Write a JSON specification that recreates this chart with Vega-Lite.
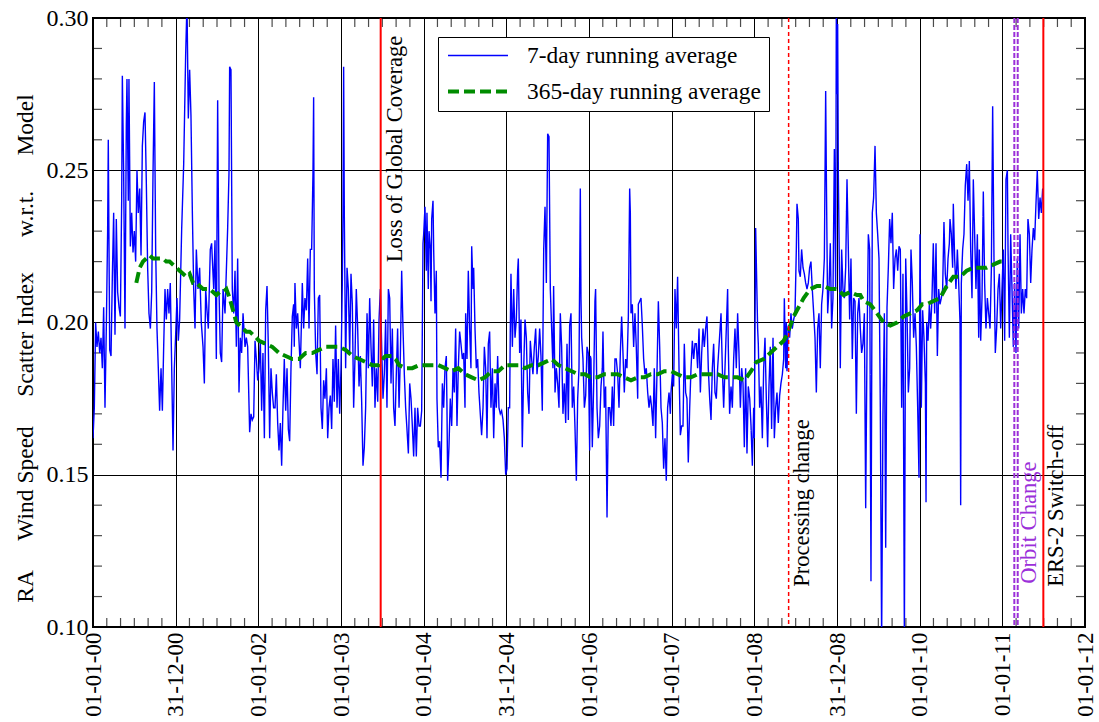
{
  "$schema": "https://vega.github.io/schema/vega-lite/v6.json",
  "width": 992,
  "height": 609,
  "autosize": {"type": "none"},
  "padding": {"left": 93, "top": 18, "right": 14, "bottom": 95},
  "background": "#ffffff",
  "config": {
    "font": "Liberation Serif",
    "view": {"stroke": "#000000", "strokeWidth": 2},
    "axis": {
      "domain": false,
      "gridColor": "#000000",
      "gridWidth": 1,
      "gridOpacity": 1,
      "labelColor": "#000000",
      "titleColor": "#000000",
      "labelFont": "Liberation Serif",
      "titleFont": "Liberation Serif",
      "titleFontWeight": "normal"
    }
  },
  "datasets": {
    "weekly": [
      {"t":2000.000,"v":0.162},{"t":2000.016,"v":0.172},{"t":2000.032,"v":0.200},{"t":2000.048,"v":0.192},{"t":2000.065,"v":0.197},{"t":2000.081,"v":0.190},{"t":2000.097,"v":0.195},{"t":2000.113,"v":0.185},{"t":2000.129,"v":0.205},{"t":2000.145,"v":0.172},{"t":2000.161,"v":0.198},{"t":2000.177,"v":0.230},{"t":2000.185,"v":0.260},{"t":2000.202,"v":0.191},{"t":2000.218,"v":0.189},{"t":2000.234,"v":0.215},{"t":2000.250,"v":0.236},{"t":2000.266,"v":0.196},{"t":2000.282,"v":0.234},{"t":2000.298,"v":0.210},{"t":2000.315,"v":0.205},{"t":2000.331,"v":0.202},{"t":2000.347,"v":0.240},{"t":2000.355,"v":0.281},{"t":2000.371,"v":0.249},{"t":2000.387,"v":0.198},{"t":2000.403,"v":0.265},{"t":2000.411,"v":0.280},{"t":2000.427,"v":0.240},{"t":2000.435,"v":0.280},{"t":2000.452,"v":0.225},{"t":2000.468,"v":0.236},{"t":2000.484,"v":0.223},{"t":2000.500,"v":0.230},{"t":2000.516,"v":0.220},{"t":2000.532,"v":0.250},{"t":2000.548,"v":0.236},{"t":2000.565,"v":0.244},{"t":2000.581,"v":0.222},{"t":2000.597,"v":0.258},{"t":2000.613,"v":0.266},{"t":2000.629,"v":0.269},{"t":2000.645,"v":0.246},{"t":2000.661,"v":0.218},{"t":2000.677,"v":0.203},{"t":2000.694,"v":0.198},{"t":2000.710,"v":0.210},{"t":2000.726,"v":0.249},{"t":2000.742,"v":0.279},{"t":2000.758,"v":0.224},{"t":2000.774,"v":0.198},{"t":2000.790,"v":0.185},{"t":2000.806,"v":0.171},{"t":2000.823,"v":0.185},{"t":2000.839,"v":0.171},{"t":2000.855,"v":0.192},{"t":2000.871,"v":0.211},{"t":2000.887,"v":0.201},{"t":2000.903,"v":0.211},{"t":2000.919,"v":0.203},{"t":2000.935,"v":0.213},{"t":2000.952,"v":0.185},{"t":2000.968,"v":0.158},{"t":2000.984,"v":0.185},
      {"t":2001.000,"v":0.196},{"t":2001.016,"v":0.208},{"t":2001.032,"v":0.194},{"t":2001.048,"v":0.201},{"t":2001.073,"v":0.231},{"t":2001.097,"v":0.252},{"t":2001.121,"v":0.288},{"t":2001.137,"v":0.305},{"t":2001.153,"v":0.267},{"t":2001.169,"v":0.283},{"t":2001.185,"v":0.268},{"t":2001.202,"v":0.236},{"t":2001.218,"v":0.211},{"t":2001.234,"v":0.198},{"t":2001.250,"v":0.224},{"t":2001.270,"v":0.211},{"t":2001.290,"v":0.218},{"t":2001.310,"v":0.200},{"t":2001.331,"v":0.192},{"t":2001.347,"v":0.180},{"t":2001.363,"v":0.211},{"t":2001.379,"v":0.204},{"t":2001.395,"v":0.198},{"t":2001.419,"v":0.224},{"t":2001.435,"v":0.226},{"t":2001.460,"v":0.211},{"t":2001.476,"v":0.227},{"t":2001.492,"v":0.188},{"t":2001.508,"v":0.273},{"t":2001.524,"v":0.211},{"t":2001.540,"v":0.190},{"t":2001.556,"v":0.187},{"t":2001.573,"v":0.211},{"t":2001.597,"v":0.203},{"t":2001.613,"v":0.217},{"t":2001.629,"v":0.231},{"t":2001.645,"v":0.249},{"t":2001.653,"v":0.284},{"t":2001.669,"v":0.283},{"t":2001.685,"v":0.211},{"t":2001.702,"v":0.203},{"t":2001.718,"v":0.217},{"t":2001.734,"v":0.192},{"t":2001.750,"v":0.221},{"t":2001.766,"v":0.177},{"t":2001.782,"v":0.195},{"t":2001.798,"v":0.190},{"t":2001.815,"v":0.203},{"t":2001.839,"v":0.192},{"t":2001.855,"v":0.195},{"t":2001.871,"v":0.192},{"t":2001.895,"v":0.164},{"t":2001.911,"v":0.170},{"t":2001.927,"v":0.168},{"t":2001.944,"v":0.169},{"t":2001.960,"v":0.194},{"t":2001.976,"v":0.188},{"t":2001.992,"v":0.181},
      {"t":2002.008,"v":0.185},{"t":2002.024,"v":0.194},{"t":2002.040,"v":0.171},{"t":2002.056,"v":0.190},{"t":2002.073,"v":0.162},{"t":2002.089,"v":0.204},{"t":2002.105,"v":0.212},{"t":2002.121,"v":0.192},{"t":2002.137,"v":0.162},{"t":2002.153,"v":0.185},{"t":2002.169,"v":0.177},{"t":2002.185,"v":0.172},{"t":2002.202,"v":0.172},{"t":2002.218,"v":0.183},{"t":2002.234,"v":0.167},{"t":2002.250,"v":0.158},{"t":2002.266,"v":0.167},{"t":2002.282,"v":0.153},{"t":2002.298,"v":0.172},{"t":2002.314,"v":0.188},{"t":2002.331,"v":0.171},{"t":2002.347,"v":0.185},{"t":2002.363,"v":0.165},{"t":2002.379,"v":0.161},{"t":2002.395,"v":0.185},{"t":2002.411,"v":0.202},{"t":2002.427,"v":0.206},{"t":2002.435,"v":0.192},{"t":2002.443,"v":0.213},{"t":2002.460,"v":0.198},{"t":2002.476,"v":0.203},{"t":2002.492,"v":0.194},{"t":2002.508,"v":0.185},{"t":2002.524,"v":0.203},{"t":2002.532,"v":0.213},{"t":2002.548,"v":0.198},{"t":2002.564,"v":0.208},{"t":2002.581,"v":0.204},{"t":2002.597,"v":0.221},{"t":2002.613,"v":0.198},{"t":2002.629,"v":0.224},{"t":2002.645,"v":0.224},{"t":2002.661,"v":0.249},{"t":2002.669,"v":0.274},{"t":2002.677,"v":0.211},{"t":2002.694,"v":0.190},{"t":2002.710,"v":0.183},{"t":2002.726,"v":0.208},{"t":2002.742,"v":0.209},{"t":2002.758,"v":0.172},{"t":2002.774,"v":0.165},{"t":2002.790,"v":0.181},{"t":2002.806,"v":0.175},{"t":2002.823,"v":0.185},{"t":2002.839,"v":0.162},{"t":2002.855,"v":0.172},{"t":2002.871,"v":0.176},{"t":2002.887,"v":0.165},{"t":2002.903,"v":0.188},{"t":2002.919,"v":0.174},{"t":2002.935,"v":0.199},{"t":2002.952,"v":0.172},{"t":2002.968,"v":0.188},{"t":2002.984,"v":0.170},
      {"t":2003.000,"v":0.185},{"t":2003.016,"v":0.213},{"t":2003.024,"v":0.236},{"t":2003.032,"v":0.284},{"t":2003.040,"v":0.236},{"t":2003.056,"v":0.185},{"t":2003.073,"v":0.218},{"t":2003.089,"v":0.211},{"t":2003.105,"v":0.190},{"t":2003.121,"v":0.216},{"t":2003.137,"v":0.206},{"t":2003.153,"v":0.172},{"t":2003.169,"v":0.188},{"t":2003.185,"v":0.211},{"t":2003.202,"v":0.198},{"t":2003.218,"v":0.179},{"t":2003.234,"v":0.189},{"t":2003.250,"v":0.174},{"t":2003.266,"v":0.153},{"t":2003.282,"v":0.159},{"t":2003.298,"v":0.172},{"t":2003.315,"v":0.203},{"t":2003.331,"v":0.185},{"t":2003.347,"v":0.208},{"t":2003.363,"v":0.192},{"t":2003.379,"v":0.179},{"t":2003.395,"v":0.201},{"t":2003.411,"v":0.172},{"t":2003.427,"v":0.185},{"t":2003.444,"v":0.174},{"t":2003.460,"v":0.201},{"t":2003.476,"v":0.211},{"t":2003.492,"v":0.192},{"t":2003.508,"v":0.175},{"t":2003.524,"v":0.183},{"t":2003.540,"v":0.201},{"t":2003.556,"v":0.172},{"t":2003.573,"v":0.211},{"t":2003.589,"v":0.208},{"t":2003.605,"v":0.180},{"t":2003.621,"v":0.198},{"t":2003.637,"v":0.172},{"t":2003.653,"v":0.166},{"t":2003.669,"v":0.183},{"t":2003.685,"v":0.198},{"t":2003.702,"v":0.172},{"t":2003.718,"v":0.189},{"t":2003.734,"v":0.217},{"t":2003.750,"v":0.198},{"t":2003.766,"v":0.183},{"t":2003.782,"v":0.172},{"t":2003.798,"v":0.165},{"t":2003.815,"v":0.157},{"t":2003.831,"v":0.180},{"t":2003.847,"v":0.175},{"t":2003.863,"v":0.166},{"t":2003.879,"v":0.156},{"t":2003.895,"v":0.172},{"t":2003.911,"v":0.156},{"t":2003.927,"v":0.172},{"t":2003.944,"v":0.166},{"t":2003.960,"v":0.166},{"t":2003.976,"v":0.171},{"t":2003.992,"v":0.226},
      {"t":2004.000,"v":0.229},{"t":2004.016,"v":0.238},{"t":2004.032,"v":0.217},{"t":2004.040,"v":0.236},{"t":2004.056,"v":0.211},{"t":2004.065,"v":0.230},{"t":2004.081,"v":0.224},{"t":2004.089,"v":0.207},{"t":2004.097,"v":0.234},{"t":2004.113,"v":0.240},{"t":2004.121,"v":0.224},{"t":2004.137,"v":0.203},{"t":2004.153,"v":0.217},{"t":2004.161,"v":0.175},{"t":2004.177,"v":0.159},{"t":2004.193,"v":0.161},{"t":2004.210,"v":0.149},{"t":2004.226,"v":0.180},{"t":2004.242,"v":0.172},{"t":2004.258,"v":0.185},{"t":2004.274,"v":0.189},{"t":2004.282,"v":0.172},{"t":2004.290,"v":0.148},{"t":2004.306,"v":0.159},{"t":2004.322,"v":0.175},{"t":2004.339,"v":0.166},{"t":2004.355,"v":0.185},{"t":2004.371,"v":0.177},{"t":2004.387,"v":0.198},{"t":2004.403,"v":0.166},{"t":2004.419,"v":0.185},{"t":2004.435,"v":0.197},{"t":2004.451,"v":0.193},{"t":2004.468,"v":0.188},{"t":2004.484,"v":0.190},{"t":2004.500,"v":0.172},{"t":2004.508,"v":0.203},{"t":2004.524,"v":0.188},{"t":2004.540,"v":0.217},{"t":2004.556,"v":0.198},{"t":2004.572,"v":0.185},{"t":2004.581,"v":0.225},{"t":2004.597,"v":0.211},{"t":2004.605,"v":0.218},{"t":2004.621,"v":0.198},{"t":2004.637,"v":0.185},{"t":2004.653,"v":0.188},{"t":2004.669,"v":0.177},{"t":2004.685,"v":0.170},{"t":2004.701,"v":0.163},{"t":2004.718,"v":0.172},{"t":2004.734,"v":0.192},{"t":2004.750,"v":0.185},{"t":2004.766,"v":0.162},{"t":2004.782,"v":0.193},{"t":2004.798,"v":0.197},{"t":2004.814,"v":0.172},{"t":2004.831,"v":0.185},{"t":2004.847,"v":0.162},{"t":2004.863,"v":0.180},{"t":2004.879,"v":0.172},{"t":2004.895,"v":0.189},{"t":2004.911,"v":0.172},{"t":2004.927,"v":0.170},{"t":2004.943,"v":0.171},{"t":2004.960,"v":0.168},{"t":2004.976,"v":0.162},{"t":2004.992,"v":0.150},
      {"t":2005.008,"v":0.152},{"t":2005.024,"v":0.172},{"t":2005.040,"v":0.172},{"t":2005.048,"v":0.198},{"t":2005.056,"v":0.216},{"t":2005.073,"v":0.192},{"t":2005.089,"v":0.211},{"t":2005.105,"v":0.195},{"t":2005.121,"v":0.201},{"t":2005.137,"v":0.217},{"t":2005.145,"v":0.221},{"t":2005.161,"v":0.190},{"t":2005.177,"v":0.201},{"t":2005.193,"v":0.159},{"t":2005.210,"v":0.185},{"t":2005.226,"v":0.201},{"t":2005.242,"v":0.195},{"t":2005.258,"v":0.177},{"t":2005.274,"v":0.170},{"t":2005.290,"v":0.194},{"t":2005.306,"v":0.188},{"t":2005.322,"v":0.183},{"t":2005.339,"v":0.192},{"t":2005.355,"v":0.198},{"t":2005.371,"v":0.183},{"t":2005.387,"v":0.189},{"t":2005.403,"v":0.198},{"t":2005.419,"v":0.189},{"t":2005.435,"v":0.171},{"t":2005.452,"v":0.224},{"t":2005.468,"v":0.238},{"t":2005.484,"v":0.213},{"t":2005.500,"v":0.262},{"t":2005.516,"v":0.261},{"t":2005.532,"v":0.211},{"t":2005.548,"v":0.198},{"t":2005.564,"v":0.185},{"t":2005.572,"v":0.212},{"t":2005.589,"v":0.177},{"t":2005.605,"v":0.185},{"t":2005.621,"v":0.180},{"t":2005.637,"v":0.172},{"t":2005.653,"v":0.203},{"t":2005.669,"v":0.192},{"t":2005.685,"v":0.170},{"t":2005.702,"v":0.180},{"t":2005.718,"v":0.167},{"t":2005.734,"v":0.193},{"t":2005.750,"v":0.168},{"t":2005.766,"v":0.199},{"t":2005.782,"v":0.203},{"t":2005.798,"v":0.172},{"t":2005.815,"v":0.179},{"t":2005.831,"v":0.165},{"t":2005.847,"v":0.148},{"t":2005.863,"v":0.175},{"t":2005.879,"v":0.185},{"t":2005.895,"v":0.244},{"t":2005.903,"v":0.208},{"t":2005.911,"v":0.195},{"t":2005.927,"v":0.188},{"t":2005.944,"v":0.172},{"t":2005.960,"v":0.176},{"t":2005.976,"v":0.192},{"t":2005.992,"v":0.190},
      {"t":2006.008,"v":0.158},{"t":2006.016,"v":0.189},{"t":2006.024,"v":0.188},{"t":2006.040,"v":0.159},{"t":2006.056,"v":0.179},{"t":2006.072,"v":0.207},{"t":2006.080,"v":0.211},{"t":2006.097,"v":0.172},{"t":2006.113,"v":0.162},{"t":2006.129,"v":0.166},{"t":2006.145,"v":0.179},{"t":2006.161,"v":0.185},{"t":2006.169,"v":0.197},{"t":2006.185,"v":0.172},{"t":2006.201,"v":0.179},{"t":2006.218,"v":0.136},{"t":2006.234,"v":0.172},{"t":2006.250,"v":0.172},{"t":2006.266,"v":0.166},{"t":2006.282,"v":0.179},{"t":2006.298,"v":0.166},{"t":2006.314,"v":0.188},{"t":2006.330,"v":0.188},{"t":2006.347,"v":0.183},{"t":2006.363,"v":0.172},{"t":2006.379,"v":0.190},{"t":2006.395,"v":0.202},{"t":2006.411,"v":0.190},{"t":2006.427,"v":0.177},{"t":2006.443,"v":0.188},{"t":2006.459,"v":0.185},{"t":2006.476,"v":0.202},{"t":2006.492,"v":0.244},{"t":2006.500,"v":0.236},{"t":2006.508,"v":0.203},{"t":2006.524,"v":0.206},{"t":2006.540,"v":0.192},{"t":2006.556,"v":0.203},{"t":2006.572,"v":0.192},{"t":2006.589,"v":0.175},{"t":2006.597,"v":0.206},{"t":2006.613,"v":0.207},{"t":2006.629,"v":0.208},{"t":2006.645,"v":0.199},{"t":2006.661,"v":0.188},{"t":2006.677,"v":0.183},{"t":2006.693,"v":0.185},{"t":2006.710,"v":0.177},{"t":2006.726,"v":0.172},{"t":2006.742,"v":0.176},{"t":2006.758,"v":0.172},{"t":2006.774,"v":0.166},{"t":2006.790,"v":0.185},{"t":2006.806,"v":0.162},{"t":2006.822,"v":0.183},{"t":2006.839,"v":0.207},{"t":2006.855,"v":0.192},{"t":2006.871,"v":0.172},{"t":2006.887,"v":0.167},{"t":2006.903,"v":0.152},{"t":2006.919,"v":0.162},{"t":2006.935,"v":0.148},{"t":2006.951,"v":0.172},{"t":2006.968,"v":0.177},{"t":2006.984,"v":0.170},{"t":2006.992,"v":0.177},
      {"t":2007.008,"v":0.183},{"t":2007.024,"v":0.179},{"t":2007.040,"v":0.211},{"t":2007.056,"v":0.198},{"t":2007.072,"v":0.215},{"t":2007.089,"v":0.185},{"t":2007.105,"v":0.163},{"t":2007.121,"v":0.166},{"t":2007.137,"v":0.166},{"t":2007.153,"v":0.193},{"t":2007.169,"v":0.177},{"t":2007.185,"v":0.175},{"t":2007.201,"v":0.154},{"t":2007.218,"v":0.172},{"t":2007.234,"v":0.185},{"t":2007.250,"v":0.194},{"t":2007.266,"v":0.188},{"t":2007.282,"v":0.193},{"t":2007.298,"v":0.193},{"t":2007.314,"v":0.185},{"t":2007.331,"v":0.198},{"t":2007.347,"v":0.177},{"t":2007.363,"v":0.190},{"t":2007.379,"v":0.198},{"t":2007.395,"v":0.192},{"t":2007.411,"v":0.198},{"t":2007.427,"v":0.202},{"t":2007.443,"v":0.185},{"t":2007.460,"v":0.175},{"t":2007.476,"v":0.168},{"t":2007.492,"v":0.185},{"t":2007.508,"v":0.193},{"t":2007.524,"v":0.177},{"t":2007.540,"v":0.175},{"t":2007.556,"v":0.185},{"t":2007.572,"v":0.192},{"t":2007.597,"v":0.203},{"t":2007.613,"v":0.185},{"t":2007.629,"v":0.172},{"t":2007.645,"v":0.185},{"t":2007.661,"v":0.198},{"t":2007.677,"v":0.211},{"t":2007.685,"v":0.192},{"t":2007.701,"v":0.170},{"t":2007.718,"v":0.179},{"t":2007.734,"v":0.172},{"t":2007.750,"v":0.188},{"t":2007.766,"v":0.198},{"t":2007.782,"v":0.185},{"t":2007.798,"v":0.203},{"t":2007.814,"v":0.190},{"t":2007.831,"v":0.172},{"t":2007.847,"v":0.185},{"t":2007.863,"v":0.180},{"t":2007.879,"v":0.159},{"t":2007.895,"v":0.185},{"t":2007.911,"v":0.157},{"t":2007.927,"v":0.179},{"t":2007.944,"v":0.175},{"t":2007.960,"v":0.166},{"t":2007.976,"v":0.153},{"t":2007.992,"v":0.172},
      {"t":2008.000,"v":0.162},{"t":2008.016,"v":0.231},{"t":2008.040,"v":0.198},{"t":2008.048,"v":0.193},{"t":2008.064,"v":0.172},{"t":2008.080,"v":0.179},{"t":2008.097,"v":0.162},{"t":2008.113,"v":0.185},{"t":2008.129,"v":0.195},{"t":2008.145,"v":0.175},{"t":2008.161,"v":0.159},{"t":2008.177,"v":0.179},{"t":2008.193,"v":0.192},{"t":2008.209,"v":0.165},{"t":2008.226,"v":0.195},{"t":2008.242,"v":0.162},{"t":2008.258,"v":0.172},{"t":2008.274,"v":0.177},{"t":2008.290,"v":0.167},{"t":2008.306,"v":0.176},{"t":2008.322,"v":0.180},{"t":2008.339,"v":0.183},{"t":2008.355,"v":0.188},{"t":2008.363,"v":0.208},{"t":2008.379,"v":0.185},{"t":2008.387,"v":0.200},{"t":2008.395,"v":0.184},{"t":2008.411,"v":0.199},{"t":2008.427,"v":0.195},{"t":2008.443,"v":0.203},{"t":2008.459,"v":0.198},{"t":2008.476,"v":0.201},{"t":2008.492,"v":0.203},{"t":2008.508,"v":0.224},{"t":2008.516,"v":0.239},{"t":2008.532,"v":0.234},{"t":2008.540,"v":0.217},{"t":2008.556,"v":0.215},{"t":2008.572,"v":0.224},{"t":2008.589,"v":0.218},{"t":2008.605,"v":0.216},{"t":2008.621,"v":0.213},{"t":2008.637,"v":0.211},{"t":2008.653,"v":0.213},{"t":2008.669,"v":0.218},{"t":2008.685,"v":0.220},{"t":2008.701,"v":0.211},{"t":2008.718,"v":0.203},{"t":2008.734,"v":0.195},{"t":2008.750,"v":0.177},{"t":2008.766,"v":0.198},{"t":2008.782,"v":0.203},{"t":2008.798,"v":0.185},{"t":2008.814,"v":0.206},{"t":2008.830,"v":0.211},{"t":2008.847,"v":0.221},{"t":2008.863,"v":0.276},{"t":2008.871,"v":0.249},{"t":2008.887,"v":0.203},{"t":2008.903,"v":0.211},{"t":2008.919,"v":0.226},{"t":2008.935,"v":0.198},{"t":2008.951,"v":0.208},{"t":2008.968,"v":0.257},{"t":2008.984,"v":0.211},{"t":2008.992,"v":0.305},
      {"t":2009.000,"v":0.275},{"t":2009.008,"v":0.298},{"t":2009.016,"v":0.249},{"t":2009.032,"v":0.211},{"t":2009.040,"v":0.185},{"t":2009.056,"v":0.224},{"t":2009.072,"v":0.211},{"t":2009.089,"v":0.208},{"t":2009.105,"v":0.218},{"t":2009.121,"v":0.247},{"t":2009.137,"v":0.224},{"t":2009.153,"v":0.201},{"t":2009.169,"v":0.221},{"t":2009.185,"v":0.188},{"t":2009.201,"v":0.208},{"t":2009.218,"v":0.207},{"t":2009.234,"v":0.170},{"t":2009.250,"v":0.203},{"t":2009.266,"v":0.208},{"t":2009.282,"v":0.198},{"t":2009.298,"v":0.190},{"t":2009.314,"v":0.193},{"t":2009.331,"v":0.203},{"t":2009.347,"v":0.139},{"t":2009.363,"v":0.192},{"t":2009.379,"v":0.229},{"t":2009.395,"v":0.224},{"t":2009.411,"v":0.115},{"t":2009.427,"v":0.236},{"t":2009.443,"v":0.241},{"t":2009.460,"v":0.258},{"t":2009.476,"v":0.236},{"t":2009.492,"v":0.229},{"t":2009.508,"v":0.221},{"t":2009.524,"v":0.172},{"t":2009.540,"v":0.095},{"t":2009.556,"v":0.170},{"t":2009.573,"v":0.203},{"t":2009.589,"v":0.126},{"t":2009.605,"v":0.205},{"t":2009.621,"v":0.218},{"t":2009.637,"v":0.234},{"t":2009.653,"v":0.226},{"t":2009.669,"v":0.236},{"t":2009.685,"v":0.211},{"t":2009.702,"v":0.221},{"t":2009.718,"v":0.224},{"t":2009.734,"v":0.217},{"t":2009.750,"v":0.225},{"t":2009.766,"v":0.224},{"t":2009.782,"v":0.172},{"t":2009.798,"v":0.216},{"t":2009.815,"v":0.095},{"t":2009.831,"v":0.221},{"t":2009.847,"v":0.203},{"t":2009.863,"v":0.177},{"t":2009.879,"v":0.185},{"t":2009.895,"v":0.224},{"t":2009.911,"v":0.213},{"t":2009.927,"v":0.195},{"t":2009.944,"v":0.203},{"t":2009.960,"v":0.192},{"t":2009.976,"v":0.172},{"t":2009.992,"v":0.149},
      {"t":2010.004,"v":0.229},{"t":2010.020,"v":0.172},{"t":2010.036,"v":0.204},{"t":2010.052,"v":0.195},{"t":2010.069,"v":0.180},{"t":2010.077,"v":0.141},{"t":2010.085,"v":0.200},{"t":2010.101,"v":0.194},{"t":2010.117,"v":0.206},{"t":2010.133,"v":0.198},{"t":2010.149,"v":0.208},{"t":2010.165,"v":0.226},{"t":2010.181,"v":0.203},{"t":2010.198,"v":0.226},{"t":2010.214,"v":0.189},{"t":2010.230,"v":0.211},{"t":2010.246,"v":0.206},{"t":2010.262,"v":0.208},{"t":2010.278,"v":0.211},{"t":2010.294,"v":0.233},{"t":2010.310,"v":0.216},{"t":2010.327,"v":0.211},{"t":2010.343,"v":0.221},{"t":2010.359,"v":0.226},{"t":2010.367,"v":0.234},{"t":2010.383,"v":0.229},{"t":2010.399,"v":0.218},{"t":2010.407,"v":0.239},{"t":2010.423,"v":0.221},{"t":2010.439,"v":0.211},{"t":2010.456,"v":0.224},{"t":2010.472,"v":0.213},{"t":2010.488,"v":0.200},{"t":2010.496,"v":0.140},{"t":2010.504,"v":0.213},{"t":2010.520,"v":0.224},{"t":2010.536,"v":0.229},{"t":2010.552,"v":0.245},{"t":2010.569,"v":0.252},{"t":2010.585,"v":0.240},{"t":2010.601,"v":0.253},{"t":2010.617,"v":0.224},{"t":2010.633,"v":0.208},{"t":2010.649,"v":0.247},{"t":2010.665,"v":0.229},{"t":2010.681,"v":0.211},{"t":2010.698,"v":0.229},{"t":2010.714,"v":0.195},{"t":2010.722,"v":0.224},{"t":2010.738,"v":0.194},{"t":2010.754,"v":0.208},{"t":2010.770,"v":0.243},{"t":2010.786,"v":0.213},{"t":2010.802,"v":0.198},{"t":2010.819,"v":0.208},{"t":2010.835,"v":0.203},{"t":2010.851,"v":0.198},{"t":2010.867,"v":0.217},{"t":2010.883,"v":0.271},{"t":2010.899,"v":0.221},{"t":2010.915,"v":0.190},{"t":2010.931,"v":0.198},{"t":2010.948,"v":0.211},{"t":2010.964,"v":0.216},{"t":2010.980,"v":0.198},{"t":2010.996,"v":0.211},
      {"t":2011.012,"v":0.224},{"t":2011.028,"v":0.194},{"t":2011.044,"v":0.247},{"t":2011.061,"v":0.250},{"t":2011.069,"v":0.224},{"t":2011.085,"v":0.195},{"t":2011.101,"v":0.229},{"t":2011.117,"v":0.211},{"t":2011.133,"v":0.192},{"t":2011.149,"v":0.213},{"t":2011.165,"v":0.190},{"t":2011.181,"v":0.221},{"t":2011.198,"v":0.198},{"t":2011.214,"v":0.229},{"t":2011.230,"v":0.203},{"t":2011.246,"v":0.211},{"t":2011.262,"v":0.203},{"t":2011.278,"v":0.211},{"t":2011.294,"v":0.208},{"t":2011.310,"v":0.234},{"t":2011.327,"v":0.229},{"t":2011.343,"v":0.213},{"t":2011.359,"v":0.224},{"t":2011.375,"v":0.231},{"t":2011.391,"v":0.227},{"t":2011.407,"v":0.239},{"t":2011.423,"v":0.250},{"t":2011.440,"v":0.234},{"t":2011.456,"v":0.241},{"t":2011.472,"v":0.236},{"t":2011.488,"v":0.244}
    ],
    "annual": [
      {"t":2000.524,"v":0.213},{"t":2000.565,"v":0.218},{"t":2000.605,"v":0.220},{"t":2000.645,"v":0.221},{"t":2000.685,"v":0.222},{"t":2000.726,"v":0.221},{"t":2000.766,"v":0.221},{"t":2000.806,"v":0.221},{"t":2000.847,"v":0.221},{"t":2000.887,"v":0.220},{"t":2000.927,"v":0.220},{"t":2000.968,"v":0.219},{"t":2001.008,"v":0.218},{"t":2001.048,"v":0.217},{"t":2001.089,"v":0.216},{"t":2001.129,"v":0.215},{"t":2001.169,"v":0.216},{"t":2001.210,"v":0.213},{"t":2001.250,"v":0.213},{"t":2001.290,"v":0.212},{"t":2001.331,"v":0.211},{"t":2001.371,"v":0.211},{"t":2001.411,"v":0.211},{"t":2001.452,"v":0.210},{"t":2001.492,"v":0.209},{"t":2001.532,"v":0.210},{"t":2001.573,"v":0.210},{"t":2001.613,"v":0.211},{"t":2001.653,"v":0.208},{"t":2001.694,"v":0.204},{"t":2001.734,"v":0.200},{"t":2001.774,"v":0.199},{"t":2001.815,"v":0.198},{"t":2001.855,"v":0.197},{"t":2001.895,"v":0.197},{"t":2001.935,"v":0.196},{"t":2001.976,"v":0.195},
      {"t":2002.008,"v":0.194},{"t":2002.089,"v":0.193},{"t":2002.169,"v":0.192},{"t":2002.250,"v":0.190},{"t":2002.331,"v":0.189},{"t":2002.411,"v":0.188},{"t":2002.492,"v":0.188},{"t":2002.573,"v":0.190},{"t":2002.653,"v":0.190},{"t":2002.734,"v":0.191},{"t":2002.814,"v":0.192},{"t":2002.895,"v":0.192},{"t":2002.976,"v":0.192},{"t":2003.056,"v":0.191},{"t":2003.137,"v":0.189},{"t":2003.218,"v":0.188},{"t":2003.298,"v":0.187},{"t":2003.379,"v":0.186},{"t":2003.460,"v":0.186},{"t":2003.500,"v":0.188},{"t":2003.540,"v":0.189},{"t":2003.621,"v":0.189},{"t":2003.661,"v":0.188},{"t":2003.702,"v":0.186},{"t":2003.782,"v":0.185},{"t":2003.863,"v":0.185},{"t":2003.944,"v":0.186},{"t":2004.008,"v":0.186},
      {"t":2004.097,"v":0.186},{"t":2004.177,"v":0.186},{"t":2004.258,"v":0.185},{"t":2004.339,"v":0.184},{"t":2004.419,"v":0.185},{"t":2004.500,"v":0.183},{"t":2004.581,"v":0.182},{"t":2004.661,"v":0.181},{"t":2004.742,"v":0.182},{"t":2004.823,"v":0.184},{"t":2004.903,"v":0.184},{"t":2004.984,"v":0.186},{"t":2005.064,"v":0.186},{"t":2005.145,"v":0.186},{"t":2005.226,"v":0.185},{"t":2005.306,"v":0.186},{"t":2005.387,"v":0.186},{"t":2005.468,"v":0.187},{"t":2005.548,"v":0.188},{"t":2005.629,"v":0.186},{"t":2005.710,"v":0.185},{"t":2005.790,"v":0.184},{"t":2005.871,"v":0.183},{"t":2005.952,"v":0.183},{"t":2006.016,"v":0.182},
      {"t":2006.105,"v":0.182},{"t":2006.185,"v":0.183},{"t":2006.266,"v":0.183},{"t":2006.347,"v":0.183},{"t":2006.427,"v":0.182},{"t":2006.508,"v":0.181},{"t":2006.589,"v":0.182},{"t":2006.669,"v":0.182},{"t":2006.750,"v":0.183},{"t":2006.831,"v":0.183},{"t":2006.911,"v":0.184},{"t":2006.992,"v":0.184},{"t":2007.072,"v":0.183},{"t":2007.153,"v":0.182},{"t":2007.234,"v":0.182},{"t":2007.314,"v":0.183},{"t":2007.395,"v":0.183},{"t":2007.476,"v":0.183},{"t":2007.556,"v":0.183},{"t":2007.637,"v":0.182},{"t":2007.718,"v":0.182},{"t":2007.798,"v":0.182},{"t":2007.879,"v":0.181},{"t":2007.960,"v":0.184},{"t":2008.024,"v":0.187},
      {"t":2008.113,"v":0.188},{"t":2008.193,"v":0.190},{"t":2008.274,"v":0.192},{"t":2008.355,"v":0.194},{"t":2008.395,"v":0.196},{"t":2008.435,"v":0.199},{"t":2008.476,"v":0.202},{"t":2008.516,"v":0.204},{"t":2008.597,"v":0.208},{"t":2008.677,"v":0.211},{"t":2008.758,"v":0.212},{"t":2008.839,"v":0.212},{"t":2008.919,"v":0.211},{"t":2009.000,"v":0.211},{"t":2009.081,"v":0.209},{"t":2009.161,"v":0.210},{"t":2009.242,"v":0.209},{"t":2009.282,"v":0.209},{"t":2009.323,"v":0.207},{"t":2009.403,"v":0.206},{"t":2009.484,"v":0.203},{"t":2009.564,"v":0.200},{"t":2009.645,"v":0.199},{"t":2009.726,"v":0.200},{"t":2009.806,"v":0.202},{"t":2009.887,"v":0.203},{"t":2009.968,"v":0.204},{"t":2010.032,"v":0.206},
      {"t":2010.085,"v":0.206},{"t":2010.165,"v":0.207},{"t":2010.246,"v":0.208},{"t":2010.327,"v":0.212},{"t":2010.407,"v":0.215},{"t":2010.488,"v":0.215},{"t":2010.569,"v":0.217},{"t":2010.649,"v":0.218},{"t":2010.730,"v":0.218},{"t":2010.810,"v":0.218},{"t":2010.891,"v":0.219},{"t":2010.972,"v":0.220},{"t":2010.992,"v":0.220}
    ],
    "events": [
      {"event": "Loss of Global Coverage", "t": 2003.48, "phase": "single"},
      {"event": "Processing change", "t": 2008.415, "phase": "single"},
      {"event": "Orbit Change", "t": 2011.145, "phase": "start"},
      {"event": "Orbit Change", "t": 2011.186, "phase": "end"},
      {"event": "ERS-2 Switch-off", "t": 2011.496, "phase": "single"}
    ],
    "minorTime": [
      {"t":2000.1667},{"t":2000.3333},{"t":2000.5},{"t":2000.6667},{"t":2000.8333},
      {"t":2001.1667},{"t":2001.3333},{"t":2001.5},{"t":2001.6667},{"t":2001.8333},
      {"t":2002.1667},{"t":2002.3333},{"t":2002.5},{"t":2002.6667},{"t":2002.8333},
      {"t":2003.1667},{"t":2003.3333},{"t":2003.5},{"t":2003.6667},{"t":2003.8333},
      {"t":2004.1667},{"t":2004.3333},{"t":2004.5},{"t":2004.6667},{"t":2004.8333},
      {"t":2005.1667},{"t":2005.3333},{"t":2005.5},{"t":2005.6667},{"t":2005.8333},
      {"t":2006.1667},{"t":2006.3333},{"t":2006.5},{"t":2006.6667},{"t":2006.8333},
      {"t":2007.1667},{"t":2007.3333},{"t":2007.5},{"t":2007.6667},{"t":2007.8333},
      {"t":2008.1667},{"t":2008.3333},{"t":2008.5},{"t":2008.6667},{"t":2008.8333},
      {"t":2009.1667},{"t":2009.3333},{"t":2009.5},{"t":2009.6667},{"t":2009.8333},
      {"t":2010.1667},{"t":2010.3333},{"t":2010.5},{"t":2010.6667},{"t":2010.8333},
      {"t":2011.1667},{"t":2011.3333},{"t":2011.5},{"t":2011.6667},{"t":2011.8333}
    ],
    "minorIndex": [
      {"v":0.11},{"v":0.12},{"v":0.13},{"v":0.14},
      {"v":0.16},{"v":0.17},{"v":0.18},{"v":0.19},
      {"v":0.21},{"v":0.22},{"v":0.23},{"v":0.24},
      {"v":0.26},{"v":0.27},{"v":0.28},{"v":0.29}
    ]
  },
  "layer": [
    {
      "data": {"name": "minorTime"},
      "mark": {"type": "tick", "color": "#000000", "orient": "vertical", "thickness": 1.2, "size": 9},
      "encoding": {
        "x": {"field": "t", "type": "quantitative", "scale": {"domain": [2000, 2012], "nice": false, "zero": false}},
        "y": {"datum": 0.10148, "type": "quantitative", "scale": {"domain": [0.1, 0.3], "nice": false, "zero": false}}
      }
    },
    {
      "data": {"name": "minorTime"},
      "mark": {"type": "tick", "color": "#000000", "orient": "vertical", "thickness": 1.2, "size": 9},
      "encoding": {
        "x": {"field": "t", "type": "quantitative"},
        "y": {"datum": 0.29852, "type": "quantitative"}
      }
    },
    {
      "data": {"name": "minorIndex"},
      "mark": {"type": "tick", "color": "#000000", "orient": "horizontal", "thickness": 1.2, "size": 9},
      "encoding": {
        "y": {"field": "v", "type": "quantitative"},
        "x": {"datum": 2000.0544, "type": "quantitative"}
      }
    },
    {
      "data": {"name": "minorIndex"},
      "mark": {"type": "tick", "color": "#000000", "orient": "horizontal", "thickness": 1.2, "size": 9},
      "encoding": {
        "y": {"field": "v", "type": "quantitative"},
        "x": {"datum": 2011.9456, "type": "quantitative"}
      }
    },
    {
      "data": {"name": "weekly"},
      "mark": {"type": "line", "clip": true, "strokeWidth": 1.4},
      "encoding": {
        "x": {
          "field": "t", "type": "quantitative",
          "scale": {"domain": [2000, 2012], "nice": false, "zero": false},
          "axis": {
            "orient": "bottom", "title": null,
            "values": [2000, 2001, 2002, 2003, 2004, 2005, 2006, 2007, 2008, 2009, 2010, 2011, 2012],
            "labelExpr": "['01-01-00','31-12-00','01-01-02','01-01-03','01-01-04','31-12-04','01-01-06','01-01-07','01-01-08','31-12-08','01-01-10','01-01-11','01-01-12'][round(datum.value) - 2000]",
            "labelAngle": -90, "labelFontSize": 23, "labelPadding": 5,
            "labelOverlap": false, "labelBound": false, "labelFlush": false,
            "ticks": false, "tickSize": 0, "grid": true
          }
        },
        "y": {
          "field": "v", "type": "quantitative",
          "scale": {"domain": [0.1, 0.3], "nice": false, "zero": false},
          "axis": {
            "orient": "left",
            "values": [0.1, 0.15, 0.2, 0.25, 0.3],
            "format": ".2f", "labelFontSize": 24, "labelPadding": 5,
            "labelOverlap": false, "labelBound": false, "labelFlush": false,
            "ticks": false, "tickSize": 0, "grid": true,
            "title": "RA\u00a0\u00a0\u00a0\u00a0\u00a0Wind\u00a0Speed\u00a0\u00a0\u00a0\u00a0\u00a0Scatter\u00a0Index\u00a0\u00a0\u00a0\u00a0\u00a0\u00a0w.r.t.\u00a0\u00a0\u00a0\u00a0\u00a0\u00a0Model",
            "titleFontSize": 23.5, "titleX": -68, "titleY": 330, "titleBaseline": "middle", "titleAlign": "center"
          }
        },
        "color": {
          "datum": "7-day running average", "type": "nominal",
          "scale": {"domain": ["7-day running average", "365-day running average"], "range": ["#0000ff", "#008c00"]},
          "legend": {
            "title": null, "orient": "none", "legendX": 345, "legendY": 19,
            "fillColor": "#ffffff", "strokeColor": "#000000", "padding": 8,
            "symbolType": "stroke", "symbolSize": 3600, "clipHeight": 21, "rowPadding": 12,
            "labelFont": "Liberation Serif", "labelFontSize": 23.4, "labelColor": "#000000", "labelOffset": 17, "labelLimit": 400,
            "encode": {"symbols": {"update": {"strokeWidth": {"signal": "(datum.value === '7-day running average' ? 1.5 : 4)"}}}}
          }
        },
        "strokeDash": {
          "datum": "7-day running average", "type": "nominal",
          "scale": {"domain": ["7-day running average", "365-day running average"], "range": [[1, 0], [11, 5]]}
        }
      }
    },
    {
      "data": {"name": "annual"},
      "mark": {"type": "line", "clip": true, "strokeWidth": 4},
      "encoding": {
        "x": {"field": "t", "type": "quantitative"},
        "y": {"field": "v", "type": "quantitative"},
        "color": {"datum": "365-day running average", "type": "nominal"},
        "strokeDash": {"datum": "365-day running average", "type": "nominal"}
      }
    },
    {
      "data": {"name": "events"},
      "transform": [{"filter": "datum.event === 'Loss of Global Coverage' || datum.event === 'ERS-2 Switch-off'"}],
      "mark": {"type": "rule", "color": "#ff0000", "strokeWidth": 2},
      "encoding": {
        "x": {"field": "t", "type": "quantitative"}
      }
    },
    {
      "data": {"name": "events"},
      "transform": [{"filter": "datum.event === 'Processing change'"}],
      "mark": {"type": "rule", "color": "#ff0000", "strokeWidth": 1.5, "strokeDash": [4, 3]},
      "encoding": {
        "x": {"field": "t", "type": "quantitative"}
      }
    },
    {
      "data": {"name": "events"},
      "transform": [{"filter": "datum.event === 'Orbit Change'"}],
      "mark": {"type": "rule", "color": "#9b30d9", "strokeWidth": 2, "strokeDash": [5, 2]},
      "encoding": {
        "x": {"field": "t", "type": "quantitative"}
      }
    },
    {
      "data": {"name": "events"},
      "transform": [{"filter": "datum.event === 'Loss of Global Coverage'"}],
      "mark": {"type": "text", "angle": 270, "align": "right", "baseline": "top", "dy": 3, "fontSize": 22.6, "font": "Liberation Serif", "color": "#000000"},
      "encoding": {
        "x": {"field": "t", "type": "quantitative"},
        "y": {"datum": 0.2942, "type": "quantitative"},
        "text": {"field": "event"}
      }
    },
    {
      "data": {"name": "events"},
      "transform": [{"filter": "datum.event === 'Processing change' || datum.event === 'ERS-2 Switch-off'"}],
      "mark": {"type": "text", "angle": 270, "align": "left", "baseline": "top", "dy": 2, "fontSize": 22.6, "font": "Liberation Serif", "color": "#000000"},
      "encoding": {
        "x": {"field": "t", "type": "quantitative"},
        "y": {"datum": 0.1132, "type": "quantitative"},
        "text": {"field": "event"}
      }
    },
    {
      "data": {"name": "events"},
      "transform": [{"filter": "datum.event === 'Orbit Change' && datum.phase === 'end'"}],
      "mark": {"type": "text", "angle": 270, "align": "left", "baseline": "top", "dy": 0, "fontSize": 22.6, "font": "Liberation Serif", "color": "#9b30d9"},
      "encoding": {
        "x": {"field": "t", "type": "quantitative"},
        "y": {"datum": 0.1142, "type": "quantitative"},
        "text": {"field": "event"}
      }
    }
  ]
}
